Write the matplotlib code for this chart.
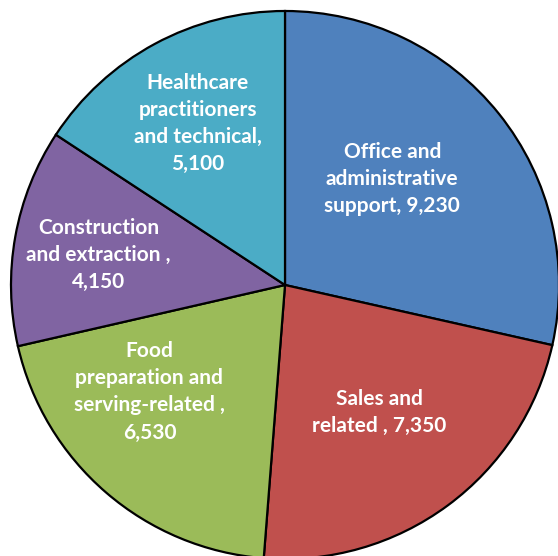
import numpy as np
import matplotlib.pyplot as plt

categories = ['Office and\nadministrative\nsupport, 9,230',
              'Sales and\nrelated , 7,350',
              'Food\npreparation and\nserving-related ,\n6,530',
              'Construction\nand extraction ,\n4,150',
              'Healthcare\npractitioners\nand technical,\n5,100']
values = [9230, 7350, 6530, 4150, 5100]
colors = ['#4F81BD', '#C0504D', '#9BBB59', '#8064A2', '#4BACC6']

# label placement: fraction of radius, angle tweak (deg)
label_r = [0.55, 0.58, 0.63, 0.69, 0.67]
label_dang = [6, 0, -11, 1, 0]

fig = plt.figure(figsize=(5.58, 5.56), dpi=100)
ax = fig.add_axes([0, 0, 1, 1])
R = 274
cx, cy = 285, 271
wedges, _ = ax.pie(values, colors=colors, startangle=90, counterclock=False,
                   radius=R, center=(cx, cy),
                   wedgeprops=dict(edgecolor='black', linewidth=1.6))
for w, lab, fr, da in zip(wedges, categories, label_r, label_dang):
    mid = np.deg2rad((w.theta1 + w.theta2) / 2 + da)
    ax.text(cx + fr * R * np.cos(mid), cy + fr * R * np.sin(mid), lab,
            ha='center', va='center', color='white', fontsize=15,
            fontweight='bold', family='Lato', linespacing=1.45)
ax.set_aspect('auto')
ax.set_xlim(0, 558)
ax.set_ylim(0, 556)
ax.axis('off')
fig.savefig('out.png', dpi=100, facecolor='white')
